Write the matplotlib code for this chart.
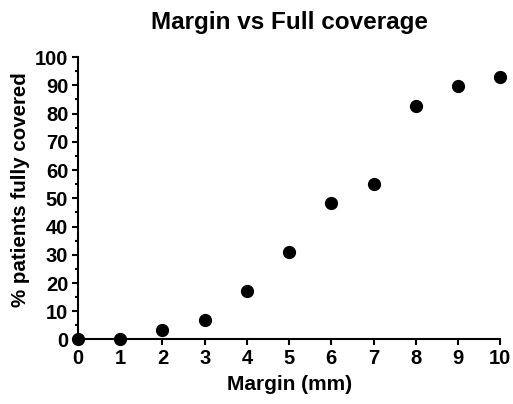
import matplotlib
matplotlib.use("Agg")
import matplotlib.pyplot as plt
from matplotlib.ticker import MultipleLocator

margin_mm = [0, 1, 2, 3, 4, 5, 6, 7, 8, 9, 10]
pct_covered = [0, 0, 3.4, 6.9, 17.2, 31.0, 48.3, 55.2, 82.8, 89.7, 93.1]

plt.rcParams['font.family'] = ['Liberation Sans', 'DejaVu Sans']
plt.rcParams['font.weight'] = 'bold'

fig = plt.figure(figsize=(5.13, 4.04), dpi=100)
ax = fig.add_axes([0.152, 0.1597, 0.823, 0.699])

ax.plot(margin_mm, pct_covered, 'o', color='black', markersize=8.5, clip_on=False, zorder=5)

ax.set_xlim(0, 10)
ax.set_ylim(0, 100)
ax.xaxis.set_major_locator(MultipleLocator(1))
ax.yaxis.set_major_locator(MultipleLocator(10))
ax.yaxis.set_minor_locator(MultipleLocator(5))

for s in ['top', 'right']:
    ax.spines[s].set_visible(False)
for s in ['left', 'bottom']:
    ax.spines[s].set_linewidth(1.5)

ax.tick_params(axis='both', which='major', length=4, width=1.5, labelsize=14.5, pad=3)
ax.tick_params(axis='y', which='minor', length=2.5, width=1.5)
for lab in ax.get_xticklabels() + ax.get_yticklabels():
    lab.set_fontweight('bold')

ax.set_xlabel('Margin (mm)', fontsize=15, fontweight='bold', labelpad=5)
ax.set_ylabel('% patients fully covered', fontsize=14.8, fontweight='bold')
ax.yaxis.set_label_coords(-0.113, 0.529)
ax.set_title('Margin vs Full coverage', fontsize=17.5, fontweight='bold', pad=20)

fig.savefig('out.png', dpi=100)
